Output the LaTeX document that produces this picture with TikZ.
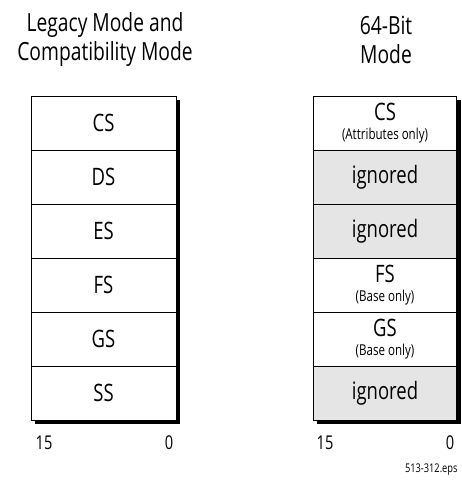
\documentclass[tikz,border=0pt]{standalone}
\usepackage{fontspec}
\setmainfont[FakeStretch=0.77]{Open Sans}
\usepackage{tikz}

\tikzset{
  regbox/.style={draw, line width=0.8pt, fill=white, minimum width=145pt,
    minimum height=54pt, inner sep=0pt, align=center,
    font=\fontsize{24}{24}\selectfont},
  ignbox/.style={regbox, fill=black!10},
  coltitle/.style={align=center, font=\fontsize{25}{29}\selectfont},
  bitnum/.style={font=\fontsize{19}{19}\selectfont},
  dropshade/.style={draw=black, line width=4pt, line join=miter},
}
\newcommand{\subnote}[1]{\\[-5pt]{\fontsize{15}{15}\selectfont #1}}

\begin{document}
\begin{tikzpicture}[x=1pt,y=-1pt]
  \useasboundingbox (0,0) rectangle (462,493);
  % titles
  \node[coltitle] (legtitle) at (105,40) {Legacy Mode and\\Compatibility Mode};
  \node[coltitle] (longtitle) at (386,40) {64-Bit\\Mode};
  % legacy column
  \foreach \reg [count=\i] in {CS,DS,ES,FS,GS,SS}
    \node[regbox] (leg\reg) at (103.5,{96+54*\i-27}) {\reg};
  % 64-bit column
  \node[regbox, minimum width=143pt] (lmCS) at (385,123) {CS\subnote{(Attributes only)}};
  \node[ignbox, minimum width=143pt] (lmDS) at (385,177) {ignored};
  \node[ignbox, minimum width=143pt] (lmES) at (385,231) {ignored};
  \node[regbox, minimum width=143pt] (lmFS) at (385,285) {FS\subnote{(Base only)}};
  \node[regbox, minimum width=143pt] (lmGS) at (385,339) {GS\subnote{(Base only)}};
  \node[ignbox, minimum width=143pt] (lmSS) at (385,393) {ignored};
  % drop shadows, right and bottom
  \path[dropshade] ([xshift=2pt,yshift=-4pt]legCS.north east) -- ([xshift=2pt,yshift=-2pt]legSS.south east) -- ([xshift=4pt,yshift=-2pt]legSS.south west);
  \path[dropshade] ([xshift=2pt,yshift=-4pt]lmCS.north east) -- ([xshift=2pt,yshift=-2pt]lmSS.south east) -- ([xshift=4pt,yshift=-2pt]lmSS.south west);
  % bit numbers
  \node[bitnum] (leghi) at (44,443) {15};
  \node[bitnum] (leglo) at (169,443) {0};
  \node[bitnum] (lmhi) at (325,443) {15};
  \node[bitnum] (lmlo) at (450,443) {0};
  \node[font=\fontsize{12}{12}\selectfont, anchor=east] (figid) at (461,470) {513-312.eps};
\end{tikzpicture}
\end{document}
